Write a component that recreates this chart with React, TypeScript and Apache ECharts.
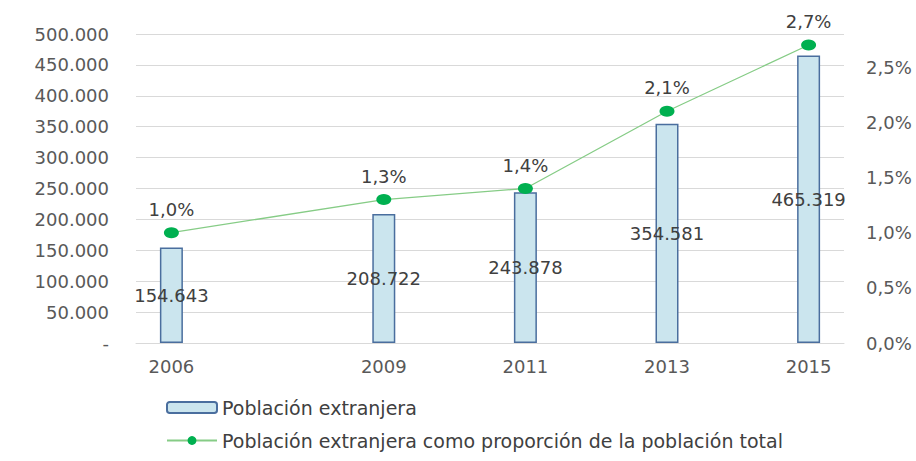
import React, { useEffect, useRef } from "react";
import * as echarts from "echarts";

const years = [2006, 2009, 2011, 2013, 2015];
const foreignPopulation = [154643, 208722, 243878, 354581, 465319];
const foreignShare = [1.0, 1.3, 1.4, 2.1, 2.7];
const barName = "Población extranjera";
const lineName = "Población extranjera como proporción de la población total";

const FONT = "DejaVu Sans";
const fmtThousands = (v: number) =>
  v === 0 ? "-" : Math.round(v).toString().replace(/\B(?=(\d{3})+(?!\d))/g, ".");
const fmtPct = (v: number) => v.toFixed(1).replace(".", ",") + "%";

export default function App() {
  const ref = useRef<HTMLDivElement>(null);
  useEffect(() => {
    if (!ref.current) return;
    const chart = echarts.init(ref.current, undefined, { renderer: "svg" });
    chart.setOption({
      animation: false,
      backgroundColor: "#ffffff",
      grid: { left: 136, right: 72, top: 34, bottom: 118, containLabel: false },
      legend: {
        orient: "vertical",
        left: 166,
        top: 398,
        padding: 0,
        itemWidth: 50,
        itemHeight: 11,
        itemGap: 14,
        textStyle: { fontFamily: FONT, fontSize: 19, color: "#404040", lineHeight: 19 },
        data: [barName, lineName],
      },
      xAxis: {
        type: "value",
        min: 2005.5,
        max: 2015.5,
        interval: 0.5,
        axisLine: { show: true, lineStyle: { color: "#d9d9d9", width: 1 } },
        axisTick: { show: false },
        splitLine: { show: false },
        axisLabel: {
          margin: 14,
          fontFamily: FONT,
          fontSize: 18,
          color: "#595959",
          formatter: (v: number) => (years.includes(v) ? String(v) : ""),
        },
      },
      yAxis: [
        {
          type: "value",
          min: 0,
          max: 500000,
          interval: 50000,
          axisLine: { show: false },
          axisTick: { show: false },
          splitLine: { show: true, lineStyle: { color: "#d9d9d9", width: 1 } },
          axisLabel: {
            margin: 27,
            fontFamily: FONT,
            fontSize: 18,
            color: "#595959",
            formatter: fmtThousands,
          },
        },
        {
          type: "value",
          min: 0,
          max: 2.8,
          interval: 0.5,
          position: "right",
          axisLine: { show: false },
          axisTick: { show: false },
          splitLine: { show: false },
          axisLabel: {
            margin: 22,
            fontFamily: FONT,
            fontSize: 18,
            color: "#595959",
            formatter: (v: number) =>
              Math.abs(v / 0.5 - Math.round(v / 0.5)) < 1e-6 ? fmtPct(v) : "",
          },
        },
      ],
      series: [
        {
          name: barName,
          type: "bar",
          yAxisIndex: 0,
          barWidth: 23,
          data: years.map((y, i) => [y, foreignPopulation[i]]),
          itemStyle: { color: "#cbe5ee", borderColor: "#4a6e9e", borderWidth: 1.5 },
          label: {
            show: true,
            position: "inside",
            fontFamily: FONT,
            fontSize: 18,
            color: "#404040",
            formatter: (p: any) => fmtThousands(p.value[1]),
          },
        },
        {
          name: lineName,
          type: "line",
          yAxisIndex: 1,
          data: years.map((y, i) => [y, foreignShare[i]]),
          symbol: "circle",
          symbolSize: [15, 11],
          lineStyle: { color: "#86cc86", width: 1.3 },
          itemStyle: { color: "#00b050" },
          label: {
            show: true,
            position: "top",
            distance: 9,
            fontFamily: FONT,
            fontSize: 18,
            color: "#404040",
            formatter: (p: any) => fmtPct(p.value[1]),
          },
        },
      ],
    });
    return () => chart.dispose();
  }, []);
  return <div ref={ref} style={{ width: 916, height: 461, position: "absolute", left: 0, top: 0 }} />;
}
